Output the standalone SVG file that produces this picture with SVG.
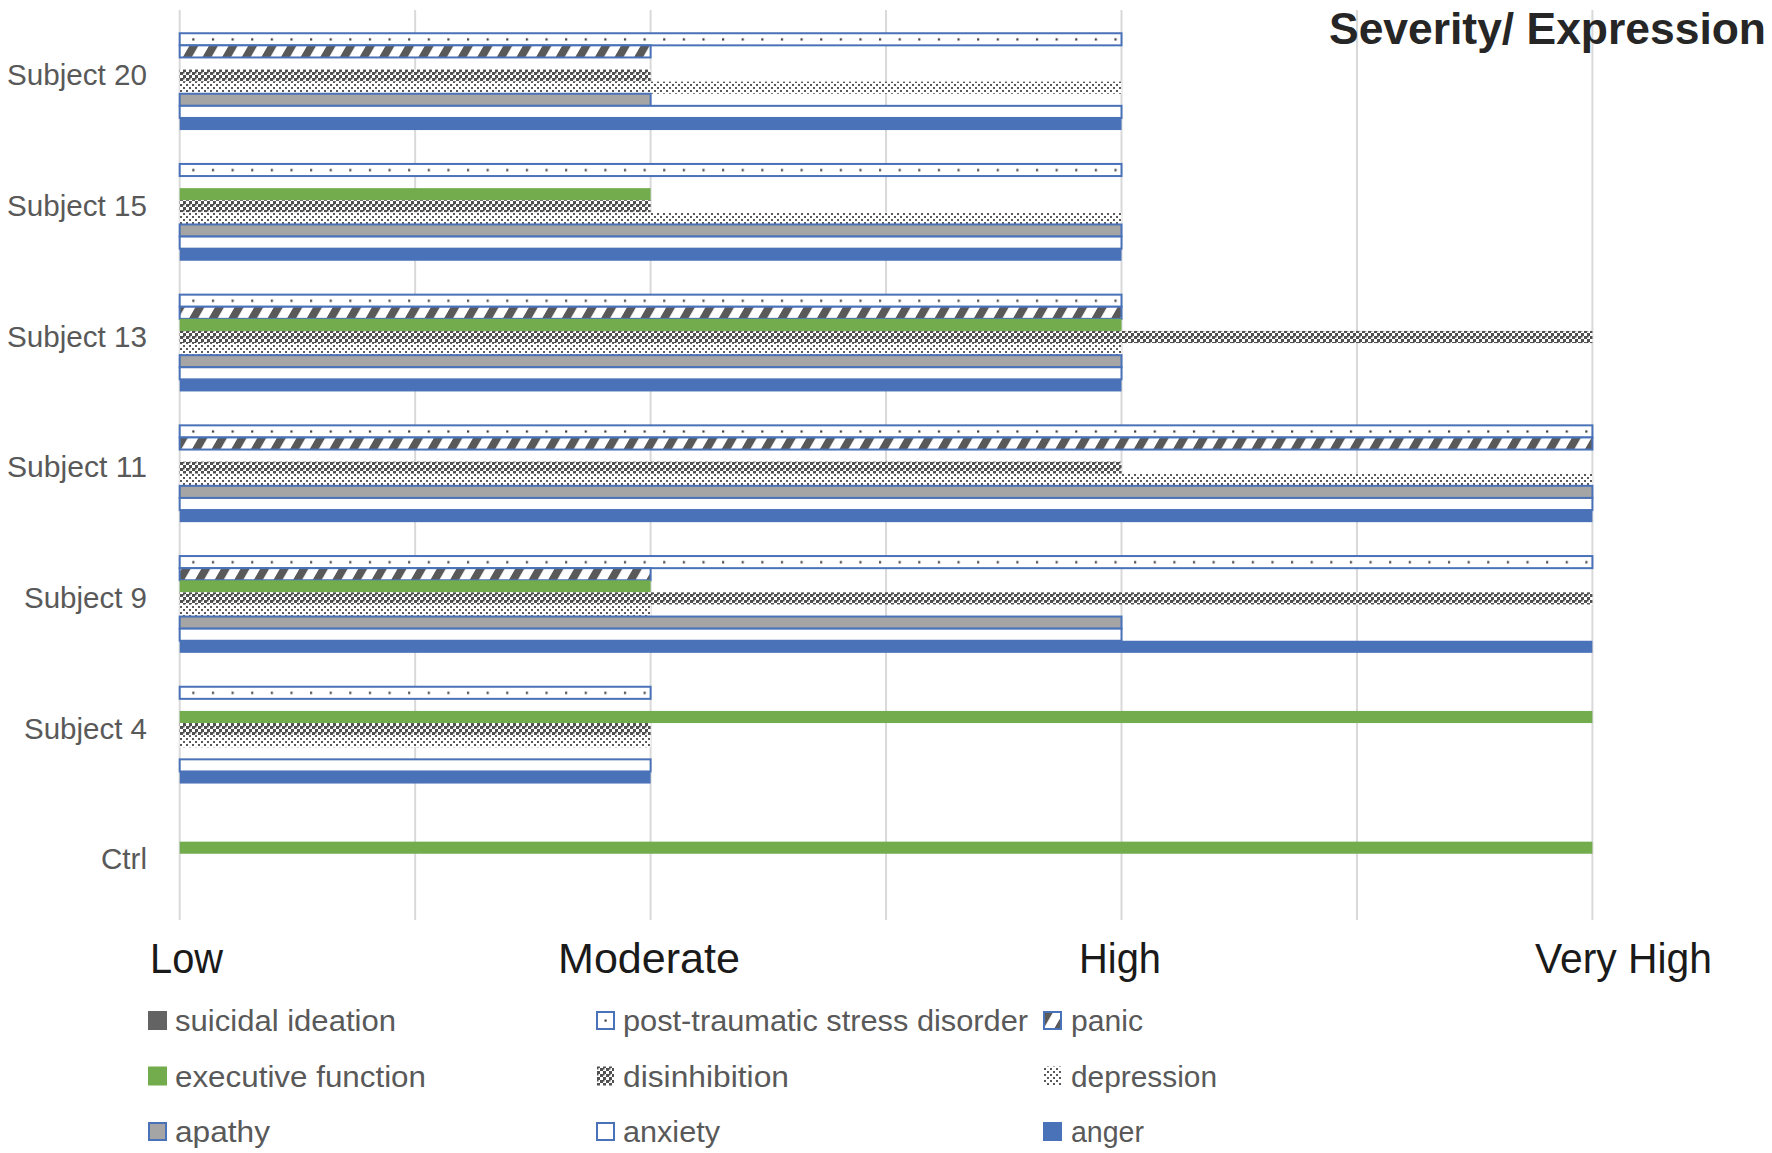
<svg xmlns="http://www.w3.org/2000/svg" width="1772" height="1153" viewBox="0 0 1772 1153">
<style>
.grid{stroke:#D9D9D9;stroke-width:2}
.anger{fill:#4A72B8}
.anx{fill:#fff;stroke:#4A72B8;stroke-width:2}
.apa{fill:#A5A5A5;stroke:#4A72B8;stroke-width:2}
.dep{fill:url(#pDep)}
.dis{fill:url(#pDis)}
.exe{fill:#72AC4D}
.pan{fill:url(#pPan);stroke:#4A72B8;stroke-width:2}
.pts{fill:url(#pPts);stroke:#4A72B8;stroke-width:2}
.sui{fill:#636363}
text{font-family:"Liberation Sans",Arial,sans-serif}
.cat{font-size:29px;fill:#595959}
.ax{font-size:42px;fill:#1a1a1a}
.leg{font-size:30px;fill:#595959}
.title{font-weight:bold;font-size:44px;fill:#262626}
</style>
<defs>
<pattern id="pDep" patternUnits="userSpaceOnUse" width="6" height="6"><rect width="6" height="6" fill="#fff"/><rect width="2" height="2" fill="#595959"/><rect x="3" y="3" width="2" height="2" fill="#595959"/></pattern>
<pattern id="pDis" patternUnits="userSpaceOnUse" width="6" height="6"><rect width="6" height="6" fill="#fff"/><rect width="3" height="3" fill="#505050"/><rect x="3" y="3" width="3" height="3" fill="#505050"/><rect x="3" y="0" width="1.5" height="1.5" fill="#505050"/></pattern>
<pattern id="pPan" patternUnits="userSpaceOnUse" width="19.62" height="40" patternTransform="skewX(-30)"><rect width="19.62" height="40" fill="#fff"/><rect width="9" height="40" fill="#595959"/></pattern>
<pattern id="pPts" patternUnits="userSpaceOnUse" width="19.62" height="130.7"><rect width="19.62" height="130.7" fill="#fff"/><rect x="15.7" y="38.3" width="2.2" height="2.2" fill="#404040"/></pattern>
</defs>
<rect width="1772" height="1153" fill="#fff"/>
<g id="gridlines">
<line class="grid" x1="179.7" y1="10" x2="179.7" y2="920"/>
<line class="grid" x1="415.15" y1="10" x2="415.15" y2="920"/>
<line class="grid" x1="650.6" y1="10" x2="650.6" y2="920"/>
<line class="grid" x1="886.05" y1="10" x2="886.05" y2="920"/>
<line class="grid" x1="1121.5" y1="10" x2="1121.5" y2="920"/>
<line class="grid" x1="1356.95" y1="10" x2="1356.95" y2="920"/>
<line class="grid" x1="1592.4" y1="10" x2="1592.4" y2="920"/>
</g>
<text class="title" x="1329" y="44" textLength="437" lengthAdjust="spacingAndGlyphs">Severity/ Expression</text>
<g id="subject20">
<text class="cat" x="147" y="85.1" text-anchor="end" textLength="140" lengthAdjust="spacingAndGlyphs">Subject 20</text>
<rect class="pts" x="179.7" y="33.25" width="941.8" height="12.1"/>
<rect class="pan" x="179.7" y="45.35" width="470.9" height="12.1"/>
<rect class="dis" x="179.7" y="69.55" width="470.9" height="12.1"/>
<rect class="dep" x="179.7" y="81.65" width="941.8" height="12.1"/>
<rect class="apa" x="179.7" y="93.75" width="470.9" height="12.1"/>
<rect class="anx" x="179.7" y="105.85" width="941.8" height="12.1"/>
<rect class="anger" x="179.7" y="117.95" width="941.8" height="12.1"/>
</g>
<g id="subject15">
<text class="cat" x="147" y="215.8" text-anchor="end" textLength="140" lengthAdjust="spacingAndGlyphs">Subject 15</text>
<rect class="pts" x="179.7" y="163.95" width="941.8" height="12.1"/>
<rect class="exe" x="179.7" y="188.15" width="470.9" height="12.1"/>
<rect class="dis" x="179.7" y="200.25" width="470.9" height="12.1"/>
<rect class="dep" x="179.7" y="212.35" width="941.8" height="12.1"/>
<rect class="apa" x="179.7" y="224.45" width="941.8" height="12.1"/>
<rect class="anx" x="179.7" y="236.55" width="941.8" height="12.1"/>
<rect class="anger" x="179.7" y="248.65" width="941.8" height="12.1"/>
</g>
<g id="subject13">
<text class="cat" x="147" y="346.5" text-anchor="end" textLength="140" lengthAdjust="spacingAndGlyphs">Subject 13</text>
<rect class="pts" x="179.7" y="294.65" width="941.8" height="12.1"/>
<rect class="pan" x="179.7" y="306.75" width="941.8" height="12.1"/>
<rect class="exe" x="179.7" y="318.85" width="941.8" height="12.1"/>
<rect class="dis" x="179.7" y="330.95" width="1412.7" height="12.1"/>
<rect class="dep" x="179.7" y="343.05" width="941.8" height="12.1"/>
<rect class="apa" x="179.7" y="355.15" width="941.8" height="12.1"/>
<rect class="anx" x="179.7" y="367.25" width="941.8" height="12.1"/>
<rect class="anger" x="179.7" y="379.35" width="941.8" height="12.1"/>
</g>
<g id="subject11">
<text class="cat" x="147" y="477.2" text-anchor="end" textLength="140" lengthAdjust="spacingAndGlyphs">Subject 11</text>
<rect class="pts" x="179.7" y="425.35" width="1412.7" height="12.1"/>
<rect class="pan" x="179.7" y="437.45" width="1412.7" height="12.1"/>
<rect class="dis" x="179.7" y="461.65" width="941.8" height="12.1"/>
<rect class="dep" x="179.7" y="473.75" width="1412.7" height="12.1"/>
<rect class="apa" x="179.7" y="485.85" width="1412.7" height="12.1"/>
<rect class="anx" x="179.7" y="497.95" width="1412.7" height="12.1"/>
<rect class="anger" x="179.7" y="510.05" width="1412.7" height="12.1"/>
</g>
<g id="subject9">
<text class="cat" x="147" y="607.9" text-anchor="end" textLength="123" lengthAdjust="spacingAndGlyphs">Subject 9</text>
<rect class="pts" x="179.7" y="556.05" width="1412.7" height="12.1"/>
<rect class="pan" x="179.7" y="568.15" width="470.9" height="12.1"/>
<rect class="exe" x="179.7" y="580.25" width="470.9" height="12.1"/>
<rect class="dis" x="179.7" y="592.35" width="1412.7" height="12.1"/>
<rect class="dep" x="179.7" y="604.45" width="470.9" height="12.1"/>
<rect class="apa" x="179.7" y="616.55" width="941.8" height="12.1"/>
<rect class="anx" x="179.7" y="628.65" width="941.8" height="12.1"/>
<rect class="anger" x="179.7" y="640.75" width="1412.7" height="12.1"/>
</g>
<g id="subject4">
<text class="cat" x="147" y="738.6" text-anchor="end" textLength="123" lengthAdjust="spacingAndGlyphs">Subject 4</text>
<rect class="pts" x="179.7" y="686.75" width="470.9" height="12.1"/>
<rect class="exe" x="179.7" y="710.95" width="1412.7" height="12.1"/>
<rect class="dis" x="179.7" y="723.05" width="470.9" height="12.1"/>
<rect class="dep" x="179.7" y="735.15" width="470.9" height="12.1"/>
<rect class="anx" x="179.7" y="759.35" width="470.9" height="12.1"/>
<rect class="anger" x="179.7" y="771.45" width="470.9" height="12.1"/>
</g>
<g id="ctrl">
<text class="cat" x="147" y="869.3" text-anchor="end" textLength="46" lengthAdjust="spacingAndGlyphs">Ctrl</text>
<rect class="exe" x="179.7" y="841.65" width="1412.7" height="12.1"/>
</g>
<g id="axis-labels">
<text class="ax" x="150" y="973" textLength="73" lengthAdjust="spacingAndGlyphs">Low</text>
<text class="ax" x="558" y="973" textLength="182" lengthAdjust="spacingAndGlyphs">Moderate</text>
<text class="ax" x="1079" y="973" textLength="82" lengthAdjust="spacingAndGlyphs">High</text>
<text class="ax" x="1535" y="973" textLength="177" lengthAdjust="spacingAndGlyphs">Very High</text>
</g>
<g id="legend">
<rect class="sui" x="148" y="1011" width="19" height="19"/>
<text class="leg" x="175" y="1031" textLength="221" lengthAdjust="spacingAndGlyphs">suicidal ideation</text>
<rect class="anx" x="597" y="1012" width="17" height="17"/>
<rect x="604.5" y="1019.5" width="2.2" height="2.2" fill="#404040"/>
<text class="leg" x="623" y="1031" textLength="405" lengthAdjust="spacingAndGlyphs">post-traumatic stress disorder</text>
<rect class="pan" x="1044" y="1012" width="17" height="17"/>
<text class="leg" x="1071" y="1031" textLength="72" lengthAdjust="spacingAndGlyphs">panic</text>
<rect class="exe" x="148" y="1066.5" width="19" height="19"/>
<text class="leg" x="175" y="1086.5" textLength="251" lengthAdjust="spacingAndGlyphs">executive function</text>
<rect class="dis" x="597" y="1066.5" width="17" height="19"/>
<text class="leg" x="623" y="1086.5" textLength="166" lengthAdjust="spacingAndGlyphs">disinhibition</text>
<rect class="dep" x="1044" y="1066.5" width="17" height="19"/>
<text class="leg" x="1071" y="1086.5" textLength="146" lengthAdjust="spacingAndGlyphs">depression</text>
<rect class="apa" x="149" y="1123" width="17" height="17"/>
<text class="leg" x="175" y="1142" textLength="95" lengthAdjust="spacingAndGlyphs">apathy</text>
<rect class="anx" x="597" y="1123" width="17" height="17"/>
<text class="leg" x="623" y="1142" textLength="97" lengthAdjust="spacingAndGlyphs">anxiety</text>
<rect class="anger" x="1043" y="1122" width="19" height="19"/>
<text class="leg" x="1071" y="1142" textLength="73" lengthAdjust="spacingAndGlyphs">anger</text>
</g>
</svg>
